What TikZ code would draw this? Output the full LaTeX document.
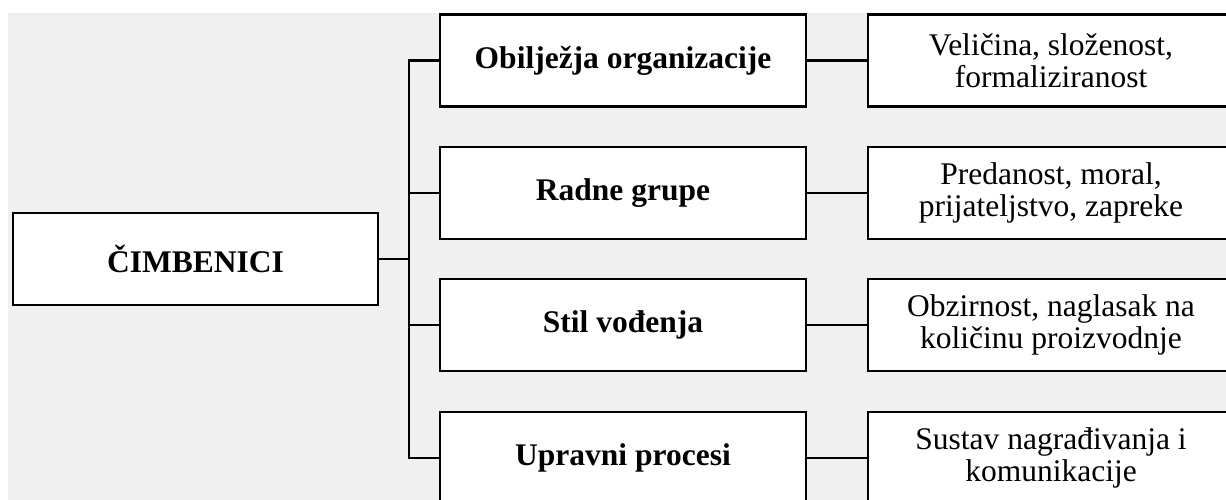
\documentclass[tikz,border=0pt]{standalone}
\usepackage{fontspec}
\setmainfont{Liberation Serif}
\definecolor{bggray}{RGB}{240,240,240}
\tikzset{
  box/.style={draw=black, fill=white, line width=2.2pt, minimum width=366pt, minimum height=92pt, inner sep=0pt, align=center,
    font=\fontsize{31.5}{32}\selectfont},
  boldbox/.style={box, font=\fontsize{31.5}{32}\selectfont\bfseries},
  conn/.style={draw=black, line width=2.2pt, line join=miter}
}
\begin{document}
\begin{tikzpicture}[x=1pt,y=-1pt]
\useasboundingbox (0,0) rectangle (1226,500);
\clip (0,0) rectangle (1226,500);
\fill[bggray] (8,13) rectangle (1226,500);
\node[boldbox, minimum width=365pt] (c0) at (195.5,259) {ČIMBENICI};
\node[boldbox] (m1) at (623,60.5) {Obilježja organizacije};
\node[boldbox] (m2) at (623,193) {Radne grupe};
\node[boldbox] (m3) at (623,325.3) {Stil vođenja};
\node[boldbox] (m4) at (623,457.6) {Upravni procesi};
\node[box] (r1) at (1051,60.5) {Veličina, složenost,\\formaliziranost};
\node[box] (r2) at (1051,193) {Predanost, moral,\\prijateljstvo, zapreke};
\node[box] (r3) at (1051,325.3) {Obzirnost, naglasak na\\količinu proizvodnje};
\node[box] (r4) at (1051,457.6) {Sustav nagrađivanja i\\komunikacije};
\coordinate (tr) at (409,0);
\draw[conn] (c0.east) -- (c0.east -| tr);
\draw[conn] (m1.west) -- (m1.west -| tr) -- (m4.west -| tr) -- (m4.west);
\draw[conn] (m2.west -| tr) -- (m2.west);
\draw[conn] (m3.west -| tr) -- (m3.west);
\foreach \i in {1,2,3,4} {\draw[conn] (m\i.east) -- (r\i.west);}
\end{tikzpicture}
\end{document}
